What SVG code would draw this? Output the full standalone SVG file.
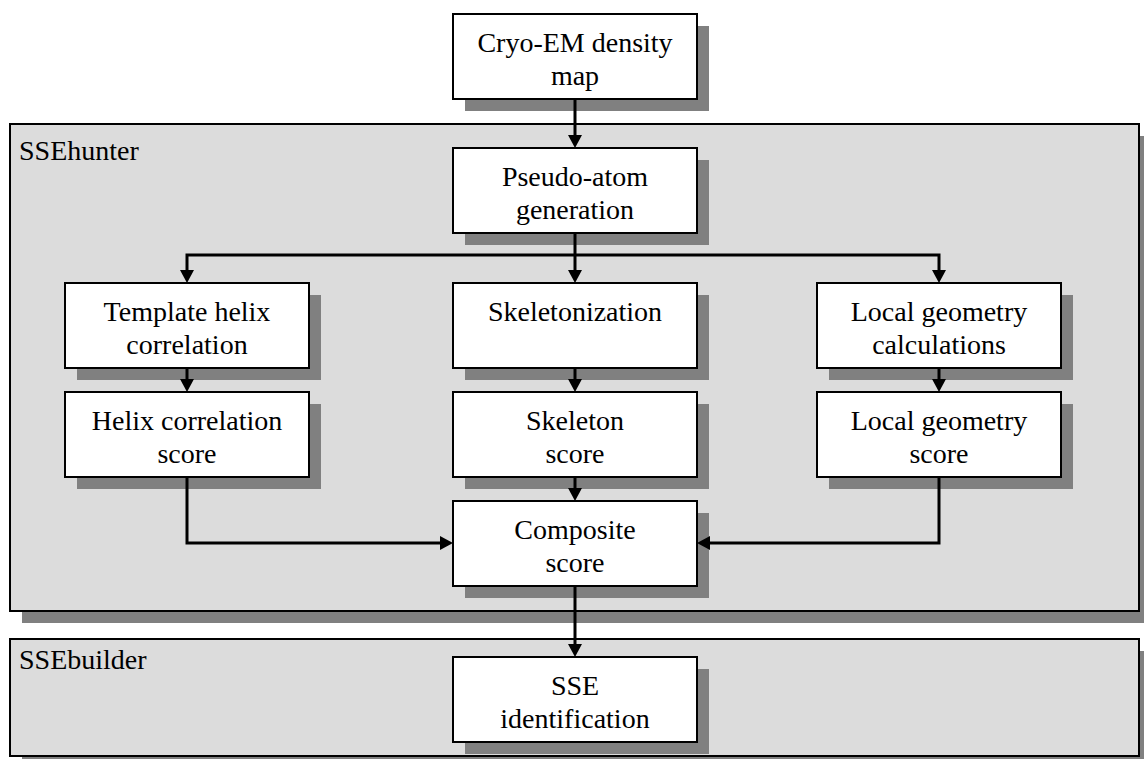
<svg xmlns="http://www.w3.org/2000/svg" width="1144" height="759" viewBox="0 0 1144 759">
<style>
.shadow{fill:#808080;stroke:none}
.cont{fill:#dcdcdc;stroke:#000;stroke-width:2}
.box{fill:#fff;stroke:#000;stroke-width:2}
.t{font-family:"Liberation Serif","Times New Roman",serif;font-size:28px;fill:#000;text-anchor:middle}
.lbl{font-family:"Liberation Serif","Times New Roman",serif;font-size:28px;fill:#000}
.cn{fill:none;stroke:#000;stroke-width:3}
.ah{fill:#000;stroke:none}
</style>
<defs>
<path id="down" d="M-7,-13 L7,-13 L0,0 z"/>
<path id="right" d="M-13,-7 L-13,7 L0,0 z"/>
<path id="left" d="M13,-7 L13,7 L0,0 z"/>
</defs>
<rect width="1144" height="759" fill="#fff"/>
<g id="ssehunter">
<rect class="shadow" x="22" y="136" width="1129" height="487"/>
<rect class="cont" x="10" y="124" width="1129" height="487"/>
<text class="lbl" x="19" y="160">SSEhunter</text>
</g>
<g id="ssebuilder">
<rect class="shadow" x="22" y="651" width="1129" height="117"/>
<rect class="cont" x="10" y="639" width="1129" height="117"/>
<text class="lbl" x="19" y="669">SSEbuilder</text>
</g>
<g id="cryo">
<rect class="shadow" x="465" y="26" width="244" height="85"/>
<rect class="box" x="453" y="14" width="244" height="85"/>
<text class="t" x="575" y="52">Cryo-EM density</text>
<text class="t" x="575" y="85">map</text>
</g>
<g id="pseudo">
<rect class="shadow" x="465" y="160" width="244" height="85"/>
<rect class="box" x="453" y="148" width="244" height="85"/>
<text class="t" x="575" y="186">Pseudo-atom</text>
<text class="t" x="575" y="219">generation</text>
</g>
<g id="template">
<rect class="shadow" x="77" y="295" width="244" height="85"/>
<rect class="box" x="65" y="283" width="244" height="85"/>
<text class="t" x="187" y="321">Template helix</text>
<text class="t" x="187" y="354">correlation</text>
</g>
<g id="skeletonization">
<rect class="shadow" x="465" y="295" width="244" height="85"/>
<rect class="box" x="453" y="283" width="244" height="85"/>
<text class="t" x="575" y="321">Skeletonization</text>
</g>
<g id="localcalc">
<rect class="shadow" x="829" y="295" width="244" height="85"/>
<rect class="box" x="817" y="283" width="244" height="85"/>
<text class="t" x="939" y="321">Local geometry</text>
<text class="t" x="939" y="354">calculations</text>
</g>
<g id="helixscore">
<rect class="shadow" x="77" y="404" width="244" height="85"/>
<rect class="box" x="65" y="392" width="244" height="85"/>
<text class="t" x="187" y="430">Helix correlation</text>
<text class="t" x="187" y="463">score</text>
</g>
<g id="skeletonscore">
<rect class="shadow" x="465" y="404" width="244" height="85"/>
<rect class="box" x="453" y="392" width="244" height="85"/>
<text class="t" x="575" y="430">Skeleton</text>
<text class="t" x="575" y="463">score</text>
</g>
<g id="localscore">
<rect class="shadow" x="829" y="404" width="244" height="85"/>
<rect class="box" x="817" y="392" width="244" height="85"/>
<text class="t" x="939" y="430">Local geometry</text>
<text class="t" x="939" y="463">score</text>
</g>
<g id="composite">
<rect class="shadow" x="465" y="513" width="244" height="85"/>
<rect class="box" x="453" y="501" width="244" height="85"/>
<text class="t" x="575" y="539">Composite</text>
<text class="t" x="575" y="572">score</text>
</g>
<g id="sseid">
<rect class="shadow" x="465" y="669" width="244" height="85"/>
<rect class="box" x="453" y="657" width="244" height="85"/>
<text class="t" x="575" y="695">SSE</text>
<text class="t" x="575" y="728">identification</text>
</g>
<g id="connectors">
<path class="cn" d="M575,100 V138"/>
<use href="#down" class="ah" x="575" y="148"/>
<path class="cn" d="M575,234 V255"/>
<path class="cn" d="M187,272 V255 H939 V272"/>
<path class="cn" d="M575,255 V272"/>
<use href="#down" class="ah" x="187" y="283"/>
<use href="#down" class="ah" x="575" y="283"/>
<use href="#down" class="ah" x="939" y="283"/>
<path class="cn" d="M187,369 V382"/>
<path class="cn" d="M575,369 V382"/>
<path class="cn" d="M939,369 V382"/>
<use href="#down" class="ah" x="187" y="392"/>
<use href="#down" class="ah" x="575" y="392"/>
<use href="#down" class="ah" x="939" y="392"/>
<path class="cn" d="M575,478 V491"/>
<use href="#down" class="ah" x="575" y="501"/>
<path class="cn" d="M187,478 V543 H443"/>
<use href="#right" class="ah" x="453" y="543"/>
<path class="cn" d="M939,478 V543 H707"/>
<use href="#left" class="ah" x="697" y="543"/>
<path class="cn" d="M575,587 V647"/>
<use href="#down" class="ah" x="575" y="657"/>
</g>
</svg>
